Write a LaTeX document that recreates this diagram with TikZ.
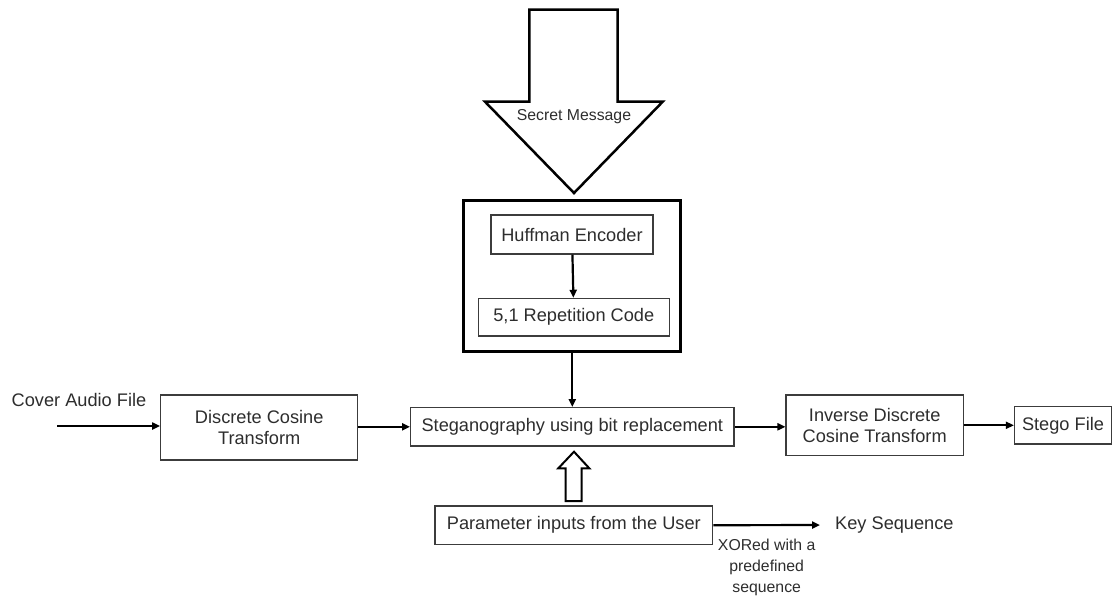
\documentclass[tikz,border=0pt]{standalone}
\usepackage{fontspec}
\setmainfont{Liberation Sans}
\usepackage{tikz}
\usetikzlibrary{arrows.meta, positioning, calc}
\definecolor{mydark}{RGB}{45,45,45}
\definecolor{myline}{RGB}{60,60,60}
\tikzset{
  box/.style={rectangle, draw=myline, line width=1.2pt, inner sep=0pt,
    align=center, text=mydark, font=\fontsize{18.2}{21.5}\selectfont},
  bigbox/.style={rectangle, draw=black, line width=3pt, inner sep=0pt},
  label/.style={inner sep=0pt, align=center, text=mydark, font=\fontsize{18.2}{21.5}\selectfont},
  smalllabel/.style={inner sep=0pt, align=center, text=mydark, font=\fontsize{15.8}{20.8}\selectfont},
  arrow/.style={-{Triangle[length=8pt,width=7pt]}, line width=2.2pt, color=black},
  hollow/.style={draw=black, line width=2.5pt, line join=miter, fill=white}
}
\begin{document}
\begin{tikzpicture}[x=1pt,y=-1pt]
  \useasboundingbox (0,0) rectangle (1116,598);

  % secret message block arrow
  \draw[hollow] (529.3,9.5) -- (617.7,9.5) -- (617.7,101.7) -- (662.7,101.7)
    -- (574,193) -- (485,101.7) -- (529.3,101.7) -- cycle;
  \node[smalllabel] (secret) at (574,117) {Secret Message};

  % encoder group
  \node[bigbox, minimum width=216.7pt, minimum height=151.3pt] (outer) at (572.3,276.3) {};
  \node[box, minimum width=162pt, minimum height=39pt] (huff) at (572,234.5) {Huffman Encoder};
  \node[box, minimum width=191pt, minimum height=37.7pt] (rep) at (573.8,317.2) {5,1 Repetition Code};

  % main chain
  \node[label] (cover) at (79,400) {Cover Audio File};
  \coordinate (in) at (57,426);
  \node[box, minimum width=197pt, minimum height=65pt] (dct) at (259.2,427.5) {Discrete Cosine\\Transform};
  \node[box, minimum width=323.3pt, minimum height=38.3pt] (steg) at (572.3,426.8) {Steganography using bit replacement};
  \node[box, minimum width=177.3pt, minimum height=60.7pt] (idct) at (874.7,425.3) {Inverse Discrete\\Cosine Transform};
  \node[box, minimum width=97pt, minimum height=37.3pt] (stego) at (1063,425.3) {Stego File};

  % user parameters
  \node[box, minimum width=277.7pt, minimum height=38.3pt] (param) at (573.8,525.2) {Parameter inputs from the User};
  \node[label, anchor=west] (key) at (835,525) {Key Sequence};
  \node[smalllabel] (xor) at (766.7,567.5) {XORed with a\\predefined\\sequence};

  \draw[hollow, line width=2pt] (565.7,501) -- (565.7,468.3) -- (558.3,468.3) -- (574,451.7)
    -- (589.3,468.3) -- (581.7,468.3) -- (581.7,501) -- cycle;

  \draw[arrow] (huff) -- (rep);
  \draw[arrow] (outer.south) -- (steg.north);
  \draw[arrow] (in) -- (in -| dct.west);
  \draw[arrow] (steg.west -| dct.east) -- (steg.west);
  \draw[arrow] (steg.east) -- (steg.east -| idct.west);
  \draw[arrow] (idct.east) -- (stego.west);
  \draw[arrow, shorten >=15pt] (param.east) -- (key.west);

\end{tikzpicture}
\end{document}
